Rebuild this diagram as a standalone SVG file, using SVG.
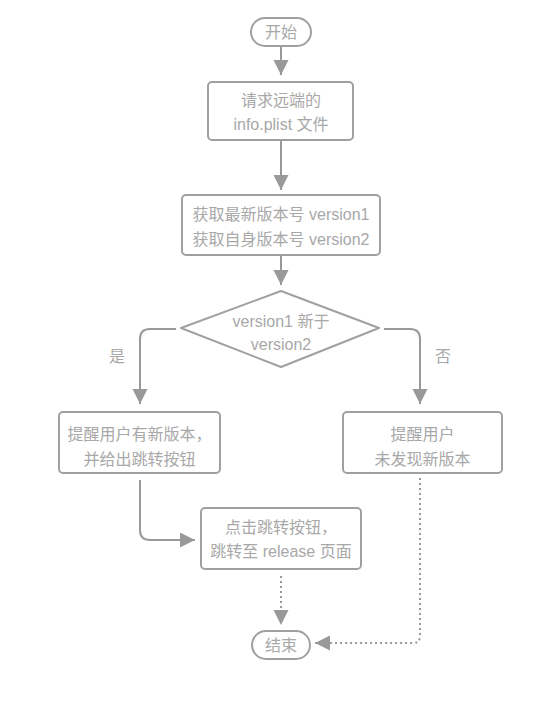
<svg xmlns="http://www.w3.org/2000/svg" width="560" height="720" viewBox="0 0 560 720">
<defs>
<marker id="ah" markerUnits="userSpaceOnUse" markerWidth="16" markerHeight="16" refX="15" refY="7.5" orient="auto">
<path d="M0,0 L15,7.5 L0,15 z" fill="#999"/>
</marker>
<style>
.box{fill:#fff;stroke:#a0a0a0;stroke-width:2}
.t{font-family:"Liberation Sans","Noto Sans CJK SC",sans-serif;font-size:16px;fill:#a8a8a8;text-anchor:middle}
.c{fill:none;stroke:#999;stroke-width:2}
.d{fill:none;stroke:#999;stroke-width:2;stroke-dasharray:2 3}
</style>
</defs>
<rect width="560" height="720" fill="#fff"/>
<g id="connectors">
<line class="c" x1="281" y1="47" x2="281" y2="75" marker-end="url(#ah)"/>
<line class="c" x1="281" y1="141" x2="281" y2="190" marker-end="url(#ah)"/>
<line class="c" x1="281" y1="256" x2="281" y2="285" marker-end="url(#ah)"/>
<path class="c" d="M176,329 H150 Q140,329 140,339 V404" marker-end="url(#ah)"/>
<path class="c" d="M384,329 H410 Q420,329 420,339 V404" marker-end="url(#ah)"/>
<path class="c" d="M140,480 V530 Q140,540 150,540 H195" marker-end="url(#ah)"/>
<path class="d" d="M281,576 V625" marker-end="url(#ah)"/>
<path class="d" d="M420,478 V636 Q420,643 413,643 H315" marker-end="url(#ah)"/>
<text class="t" x="117" y="362">是</text>
<text class="t" x="443" y="362">否</text>
</g>
<g id="start">
<rect class="box" x="251" y="18" width="60" height="28" rx="14"/>
<text class="t" x="281" y="38">开始</text>
</g>
<g id="request">
<rect class="box" x="208" y="82" width="145" height="58" rx="4"/>
<text class="t" x="281" y="106">请求远端的</text>
<text class="t" x="281" y="130">info.plist 文件</text>
</g>
<g id="versions">
<rect class="box" x="182" y="195" width="198" height="60" rx="4"/>
<text class="t" x="281" y="220">获取最新版本号 version1</text>
<text class="t" x="281" y="245">获取自身版本号 version2</text>
</g>
<g id="decision">
<path class="box" stroke-linejoin="round" d="M281,291 L379,328 L281,367 L181,328 Z"/>
<text class="t" x="281" y="327">version1 新于</text>
<text class="t" x="281" y="350">version2</text>
</g>
<g id="notify-new">
<rect class="box" x="59" y="412" width="161" height="61" rx="4"/>
<text class="t" x="139.5" y="440">提醒用户有新版本，</text>
<text class="t" x="139.5" y="465">并给出跳转按钮</text>
</g>
<g id="notify-none">
<rect class="box" x="343" y="412" width="159" height="61" rx="4"/>
<text class="t" x="422.5" y="440">提醒用户</text>
<text class="t" x="422.5" y="465">未发现新版本</text>
</g>
<g id="jump">
<rect class="box" x="201" y="508" width="160" height="61" rx="4"/>
<text class="t" x="281" y="533">点击跳转按钮，</text>
<text class="t" x="281" y="557">跳转至 release 页面</text>
</g>
<g id="end">
<rect class="box" x="252" y="631" width="58" height="28" rx="14"/>
<text class="t" x="281" y="651">结束</text>
</g>
</svg>
